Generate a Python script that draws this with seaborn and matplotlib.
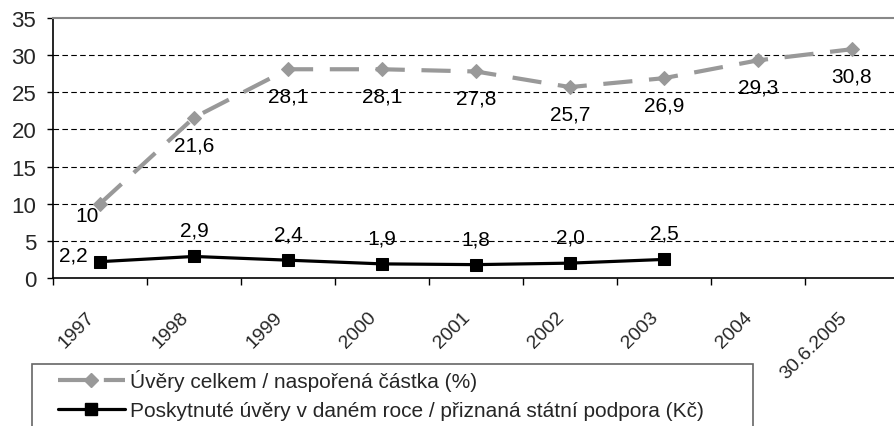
import numpy as np
import pandas as pd
import matplotlib
matplotlib.use("Agg")
import matplotlib.pyplot as plt
import seaborn as sns
from matplotlib.patches import Rectangle
from matplotlib.lines import Line2D
from matplotlib.transforms import ScaledTranslation

categories = ["1997", "1998", "1999", "2000", "2001", "2002", "2003", "2004", "30.6.2005"]
uvery_celkem = [10, 21.6, 28.1, 28.1, 27.8, 25.7, 26.9, 29.3, 30.8]
poskytnute = [2.2, 2.9, 2.4, 1.9, 1.8, 2.0, 2.5]
yticks = [0, 5, 10, 15, 20, 25, 30, 35]

label1 = "Úvěry celkem / naspořená částka (%)"
label2 = "Poskytnuté úvěry v daném roce / přiznaná státní podpora (Kč)"

GRAY = "#999999"


def make_frames():
    df1 = pd.DataFrame({"x": np.arange(len(categories)), "y": uvery_celkem})
    df2 = pd.DataFrame({"x": np.arange(len(poskytnute)), "y": poskytnute})
    return df1, df2


def draw(df1, df2):
    sns.set_style("white")
    plt.rcParams["font.family"] = ["Liberation Sans", "DejaVu Sans"]

    fig = plt.figure(figsize=(8.94, 4.27), dpi=100)
    ax = fig.add_axes([53 / 894, 1 - 279 / 427, 846 / 894, 260 / 427])

    sns.lineplot(data=df1, x="x", y="y", ax=ax, color=GRAY, linewidth=3,
                 linestyle=(0, (7, 4)), marker="D", markersize=7,
                 markeredgecolor=GRAY, markerfacecolor=GRAY, legend=False)
    sns.lineplot(data=df2, x="x", y="y", ax=ax, color="black", linewidth=2.3,
                 marker="s", markersize=8, markeredgecolor="black",
                 markerfacecolor="black", legend=False)

    # data labels
    for i, v in enumerate(uvery_celkem):
        txt = f"{v:g}".replace(".", ",")
        off = (-13, -12) if i == 0 else (0, -27)
        ax.annotate(txt, (i, v), xytext=off, textcoords="offset pixels",
                    ha="center", va="center", fontsize=15, color="black")
    for i, v in enumerate(poskytnute):
        txt = f"{v:.1f}".replace(".", ",")
        off = (-27, 7) if i == 0 else (0, 26)
        ax.annotate(txt, (i, v), xytext=off, textcoords="offset pixels",
                    ha="center", va="center", fontsize=15, color="black")

    ax.set_xlim(-0.5, len(categories) - 0.5)
    ax.set_ylim(0, 35)
    ax.set_yticks(yticks)
    ax.tick_params(axis="y", labelsize=16, length=4, width=1, pad=8,
                   direction="out", left=True, color="black")
    for y in yticks[1:-1]:
        ax.axhline(y, color="black", linewidth=0.8, linestyle=(0, (5, 3)), zorder=0)

    ax.set_xticks(np.arange(len(categories)))
    ax.set_xticklabels(categories, rotation=45, ha="right", va="center",
                       rotation_mode="anchor", fontsize=14)
    ax.set_xticks(np.arange(len(categories) + 1) - 0.5, minor=True)
    ax.tick_params(axis="x", which="major", length=0, pad=26)
    ax.tick_params(axis="x", which="minor", length=5, width=1, color="black",
                   direction="out", bottom=True)
    shift = ScaledTranslation(-8 / 100, 0, fig.dpi_scale_trans)
    for lab in ax.get_xticklabels():
        lab.set_transform(lab.get_transform() + shift)
    ax.set_xlabel("")
    ax.set_ylabel("")

    for side in ["left", "bottom"]:
        ax.spines[side].set_color("black")
        ax.spines[side].set_linewidth(1.2)
    ax.spines["top"].set_color("#888888")
    ax.spines["top"].set_linewidth(1.5)
    ax.spines["right"].set_visible(False)

    # legend
    h1 = Line2D([], [], color=GRAY, linewidth=3, linestyle=(0, (7, 4)),
                marker="D", markersize=7, markerfacecolor=GRAY, markeredgecolor=GRAY)
    h2 = Line2D([], [], color="black", linewidth=2.3, marker="s", markersize=8,
                markerfacecolor="black", markeredgecolor="black")
    fig.legend([h1, h2], [label1, label2], loc="upper left",
               bbox_to_anchor=(58 / 894, 1 - 370 / 427), frameon=False,
               fontsize=15, handlelength=3.2, handletextpad=0.25,
               labelspacing=0.5, borderpad=0, borderaxespad=0)
    fig.patches.append(Rectangle((32 / 894, -0.02), (753 - 32) / 894, 0.02 + 1 - 365 / 427,
                                 transform=fig.transFigure, fill=False,
                                 edgecolor="#666666", linewidth=1.2))

    fig.savefig("out.png", dpi=100)


if __name__ == "__main__":
    df1, df2 = make_frames()
    draw(df1, df2)
